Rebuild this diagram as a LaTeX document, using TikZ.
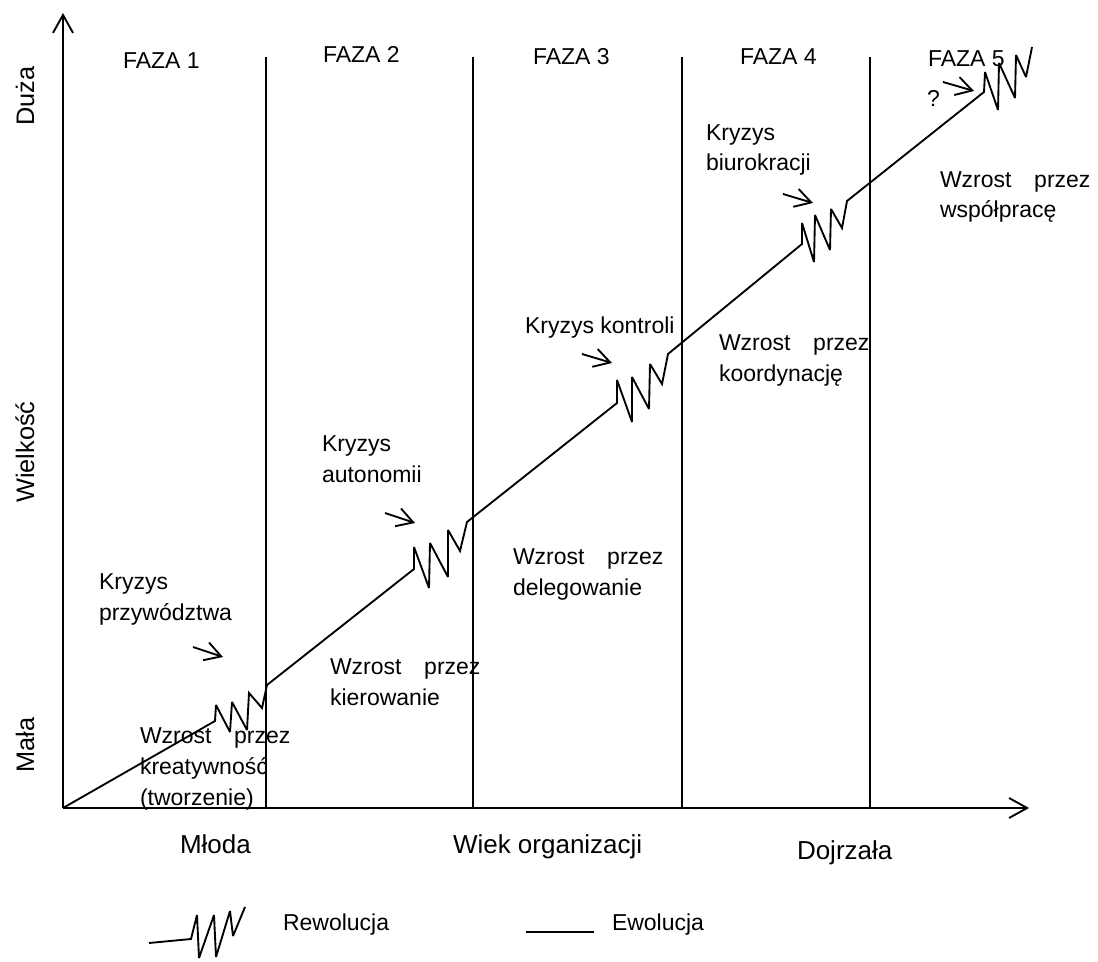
\documentclass[tikz,border=0pt]{standalone}
\usepackage{fontspec}
\setmainfont{Liberation Sans}
\usetikzlibrary{arrows.meta}
\begin{document}
\begin{tikzpicture}[x=0.75pt,y=-0.75pt,
  every node/.style={inner sep=0pt, outer sep=0pt},
  ln/.style={line width=1.4pt, line join=miter, miter limit=3},
  % multi-line labels are placed by the baseline of their last line
  txt/.style={anchor=base west, align=left, font=\fontsize{17.25}{23}\selectfont},
  faza/.style={anchor=base west, font=\fontsize{17.25}{20}\selectfont},
  axlabel/.style={anchor=base west, font=\fontsize{19.5}{22}\selectfont},
  vlabel/.style={anchor=base, rotate=90, font=\fontsize{19}{22}\selectfont},
  hint/.style={ln, -{Straight Barb[length=12pt,width=14pt]}},
  axis/.style={ln, -{Straight Barb[length=13.5pt,width=15pt]}},
]
\useasboundingbox (0,0) rectangle (1098,962);

% axes
\coordinate (O) at (63,808);
\coordinate (ytip) at (63,13);
\coordinate (xtip) at (1029,808);
\draw[axis] (O) -- (ytip);
\draw[axis] (O) -- (xtip);

% phase boundaries
\foreach \x/\n in {266/1,473/2,682/3,870/4}{
  \coordinate (b\n top) at (\x,57);
  \coordinate (b\n bot) at (\x,808);
  \draw[ln] (b\n bot) -- (b\n top);
}

% phase titles
\node[faza] (f1) at (123,69) {FAZA 1};
\node[faza] (f2) at (323,63) {FAZA 2};
\node[faza] (f3) at (533,65) {FAZA 3};
\node[faza] (f4) at (740,65) {FAZA 4};
\node[faza] (f5) at (928,67) {FAZA 5};

% growth path: evolution segments joined by revolution zigzags
\draw[ln] (O) -- (215,721)
  -- (216,705) -- (230,732) -- (232,702) -- (247,730) -- (249,693) -- (262,708) -- (267,685)
  -- (414,569)
  -- (414,547) -- (429,588) -- (430,543) -- (448,577) -- (448,530) -- (460,551) -- (467,522)
  -- (617,403)
  -- (617,380) -- (632,422) -- (632,377) -- (649,409) -- (650,364) -- (662,384) -- (668,354)
  -- (802,244)
  -- (802,223) -- (814,262) -- (815,215) -- (830,250) -- (831,209) -- (842,228) -- (847,201)
  -- (984,92)
  -- (985,72) -- (998,110) -- (999,63) -- (1015,98) -- (1016,55) -- (1026,77) -- (1032,47);

% crisis pointers
\coordinate (a1s) at (193,647); \coordinate (a1e) at (223,657);
\coordinate (a2s) at (385,513); \coordinate (a2e) at (415,523);
\coordinate (a3s) at (582,354); \coordinate (a3e) at (612,363);
\coordinate (a4s) at (783,194); \coordinate (a4e) at (813,203);
\coordinate (a5s) at (943,82);  \coordinate (a5e) at (974,91);
\draw[hint] (a1s) -- (a1e);
\draw[hint] (a2s) -- (a2e);
\draw[hint] (a3s) -- (a3e);
\draw[hint] (a4s) -- (a4e);
\draw[hint] (a5s) -- (a5e);

% crisis and growth labels
\node[txt] (k1) at (99,620) {Kryzys\\przywództwa};
\node[txt] (w1) at (140,805) {Wzrost\hspace{17pt}przez\\kreatywność\\(tworzenie)};
\node[txt] (w2) at (330,705) {Wzrost\hspace{17pt}przez\\kierowanie};
\node[txt] (k2) at (322,482) {Kryzys\\autonomii};
\node[txt] (w3) at (513,595) {Wzrost\hspace{17pt}przez\\delegowanie};
\node[txt] (k3) at (525,334) {Kryzys kontroli};
\node[txt] (w4) at (719,381) {Wzrost\hspace{17pt}przez\\koordynację};
\node[txt] (k4) at (706,171) {Kryzys\\biurokracji};
\node[txt] (w5) at (940,218) {Wzrost\hspace{17pt}przez\\współpracę};
\node[txt] (q) at (927,107) {?};

% axis labels
\node[axlabel] (mloda) at (180,853) {Młoda};
\node[axlabel] (wiek) at (453,853) {Wiek organizacji};
\node[axlabel] (dojr) at (797,859) {Dojrzała};
\node[vlabel] (duza) at (34,96) {Duża};
\node[vlabel] (wielk) at (34,452) {Wielkość};
\node[vlabel] (mala) at (34,745) {Mała};

% legend
\draw[ln] (149,943) -- (191,939) -- (197,915) -- (199,958) -- (214,915) -- (216,957)
  -- (230,911) -- (233,936) -- (245,907);
\node[txt, anchor=west] (rew) at (283,925) {Rewolucja};
\coordinate (ev1) at (526,932);
\coordinate (ev2) at (594,932);
\draw[ln] (ev1) -- (ev2);
\node[txt, anchor=west] (ewo) at (612,925) {Ewolucja};
\end{tikzpicture}
\end{document}
